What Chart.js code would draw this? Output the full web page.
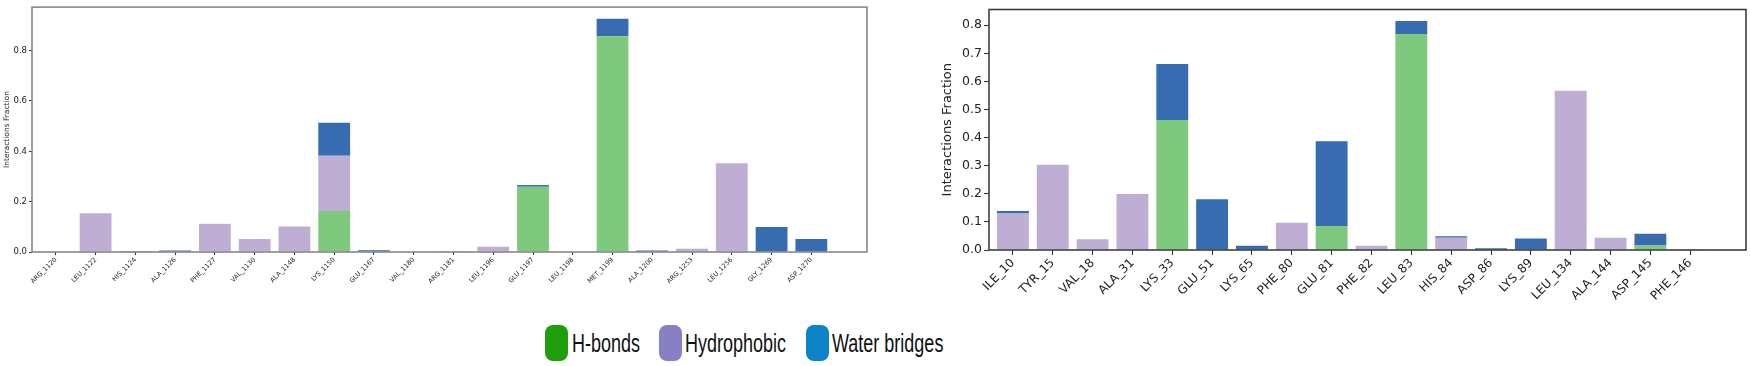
<!DOCTYPE html>
<html>
<head>
<meta charset="utf-8">
<script src="https://cdn.jsdelivr.net/npm/chart.js@4.4.1/dist/chart.umd.min.js"></script>
<style>
    html, body { margin: 0; padding: 0; background: #fff; }
    body { width: 1750px; height: 366px; position: relative; overflow: hidden; }
    #wrap-left { position: absolute; left: 0; top: 0; width: 880px; height: 300px; }
    #wrap-right { position: absolute; left: 900px; top: 0; width: 850px; height: 300px; }
    .lg-box { position: absolute; top: 325px; width: 23px; height: 36px; border-radius: 8px; }
    .lg-text { position: absolute; top: 326px; font-family: "Liberation Sans", Arial, sans-serif; font-size: 25px;
               line-height: 34px; color: #111; white-space: nowrap; transform: scaleX(0.72); transform-origin: left center; }
</style>
</head>
<body>
<div id="wrap-left"><canvas id="chart-left"></canvas></div>
<div id="wrap-right"><canvas id="chart-right"></canvas></div>

<div class="lg-box" style="left:545px;background:#1f9e0c"></div>
<div class="lg-text" style="left:572px">H-bonds</div>
<div class="lg-box" style="left:659px;background:#8780c4"></div>
<div class="lg-text" style="left:685px">Hydrophobic</div>
<div class="lg-box" style="left:806px;background:#0b83c4"></div>
<div class="lg-text" style="left:832px">Water bridges</div>

<script>
// ─── Data: left panel ─────────────────────────────────────────
const leftResidues = ['ARG_1120', 'LEU_1122', 'HIS_1124', 'ALA_1126', 'PHE_1127', 'VAL_1130', 'ALA_1148',
    'LYS_1150', 'GLU_1167', 'VAL_1180', 'ARG_1181', 'LEU_1196', 'GLU_1197', 'LEU_1198', 'MET_1199',
    'ALA_1200', 'ARG_1253', 'LEU_1256', 'GLY_1269', 'ASP_1270'];
const leftHbonds      = [0, 0, 0, 0, 0, 0, 0, 0.163, 0, 0, 0, 0, 0.259, 0, 0.857, 0, 0, 0, 0, 0];
const leftHydrophobic = [0, 0.154, 0, 0, 0.112, 0.052, 0.101, 0.219, 0, 0, 0, 0.021, 0, 0, 0, 0, 0.013, 0.353, 0, 0];
const leftWater       = [0.002, 0, 0.004, 0.006, 0, 0, 0, 0.132, 0.007, 0, 0.001, 0, 0.007, 0.002, 0.070, 0.006, 0, 0, 0.099, 0.052];
const leftTicks = [0, 0.2, 0.4, 0.6, 0.8];

// ─── Data: right panel ────────────────────────────────────────
const rightResidues = ['ILE_10', 'TYR_15', 'VAL_18', 'ALA_31', 'LYS_33', 'GLU_51', 'LYS_65', 'PHE_80', 'GLU_81',
    'PHE_82', 'LEU_83', 'HIS_84', 'ASP_86', 'LYS_89', 'LEU_134', 'ALA_144', 'ASP_145', 'PHE_146'];
const rightHbonds      = [0, 0, 0, 0, 0.463, 0, 0, 0, 0.085, 0, 0.769, 0, 0, 0, 0, 0, 0.016, 0];
const rightHydrophobic = [0.130, 0.303, 0.038, 0.199, 0, 0, 0, 0.097, 0, 0.015, 0, 0.044, 0, 0, 0.567, 0.044, 0, 0];
const rightWater       = [0.009, 0, 0, 0, 0.199, 0.181, 0.015, 0, 0.302, 0, 0.046, 0.005, 0.006, 0.041, 0, 0, 0.042, 0.003];
const rightTicks = [0, 0.1, 0.2, 0.3, 0.4, 0.5, 0.6, 0.7, 0.8];

const colors = { hbond: '#7fc97f', hydro: '#beaed4', water: '#386cb0' };

// draws the full box around the plot area
const frame = {
    id: 'frame',
    afterDraw(chart, args, opts) {
        const a = chart.chartArea, ctx = chart.ctx;
        ctx.save();
        ctx.strokeStyle = opts.color;
        ctx.lineWidth = opts.width;
        ctx.strokeRect(a.left, a.top, a.right - a.left, a.bottom - a.top);
        ctx.restore();
    }
};

function makePanel(canvasId, cfg) {
    const toXY = arr => arr.map((v, i) => ({ x: i, y: v }));
    const ds = (label, data, color) => ({
        label, data: toXY(data), backgroundColor: color,
        borderWidth: 0, barPercentage: 0.8, categoryPercentage: 1
    });
    return new Chart(document.getElementById(canvasId), {
        type: 'bar',
        data: {
            datasets: [
                ds('H-bonds', cfg.hbonds, colors.hbond),
                ds('Hydrophobic', cfg.hydro, colors.hydro),
                ds('Water bridges', cfg.water, colors.water)
            ]
        },
        plugins: [frame],
        options: {
            responsive: true,
            maintainAspectRatio: false,
            animation: false,
            layout: { padding: cfg.padding },
            plugins: {
                legend: { display: false },
                tooltip: { enabled: false },
                frame: { color: cfg.frameColor, width: 1.5 }
            },
            scales: {
                x: {
                    type: 'linear', stacked: true, offset: false,
                    min: -0.6, max: cfg.residues.length - 1 + 1.4,
                    afterBuildTicks: s => { s.ticks = cfg.residues.map((_, i) => ({ value: i })); },
                    afterFit: s => { s.height = cfg.xHeight; },
                    grid: { drawOnChartArea: false, offset: false, tickLength: cfg.tickLen, color: '#333' },
                    border: { display: false },
                    ticks: {
                        autoSkip: false, minRotation: 45, maxRotation: 45, padding: 1,
                        color: '#222', font: { family: 'DejaVu Sans', size: cfg.xFont },
                        callback: v => cfg.residues[v]
                    }
                },
                y: {
                    stacked: true, min: 0, max: cfg.yMax,
                    afterBuildTicks: s => { s.ticks = cfg.yTicks.map(v => ({ value: v })); },
                    afterFit: s => { s.width = cfg.yWidth; },
                    grid: { drawOnChartArea: false, tickLength: cfg.tickLen, color: '#333' },
                    border: { display: false },
                    ticks: {
                        padding: 2, color: '#222', font: { family: 'DejaVu Sans', size: cfg.yFont },
                        callback: v => v.toFixed(1)
                    },
                    title: {
                        display: true, text: 'Interactions Fraction', color: '#222',
                        font: { family: 'DejaVu Sans', size: cfg.titleFont }, padding: cfg.titlePad
                    }
                }
            }
        }
    });
}

makePanel('chart-left', {
    residues: leftResidues, hbonds: leftHbonds, hydro: leftHydrophobic, water: leftWater,
    yTicks: leftTicks, yMax: 0.973,
    padding: { left: 0, right: 13, top: 4, bottom: 0 },
    xHeight: 48, yWidth: 32, tickLen: 3,
    xFont: 6.5, yFont: 8.5, titleFont: 7.5, titlePad: { top: 3, bottom: 0 },
    frameColor: '#808080'
});

makePanel('chart-right', {
    residues: rightResidues, hbonds: rightHbonds, hydro: rightHydrophobic, water: rightWater,
    yTicks: rightTicks, yMax: 0.856,
    padding: { left: 0, right: 4, top: 5, bottom: 0 },
    xHeight: 50, yWidth: 89, tickLen: 5,
    xFont: 12, yFont: 12.5, titleFont: 13, titlePad: { top: 40, bottom: 0 },
    frameColor: '#333'
});
</script>
</body>
</html>
